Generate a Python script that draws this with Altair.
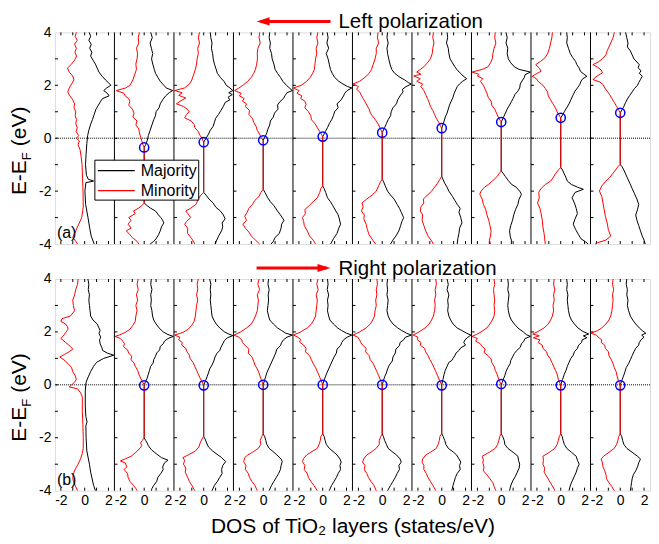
import altair as alt
import pandas as pd

# ---------------- data (E in eV, DOS in states/eV; majority +, minority -) ----------------
A1_MAJ = [(4.0,0.38),(3.85,0.5),(3.7,0.35),(3.55,0.55),(3.4,0.42),(3.25,0.6),(3.1,0.5),(2.95,0.7),(2.8,0.9),(2.65,1.05),(2.5,1.2),(2.35,1.45),(2.2,1.75),(2.1,2.0),(2.0,2.2),(1.9,1.85),(1.8,1.6),(1.7,1.9),(1.6,2.05),(1.5,1.5),(1.4,1.35),(1.25,1.15),(1.1,0.95),(0.9,0.8),(0.7,0.65),(0.5,0.48),(0.3,0.35),(0.1,0.25),(-0.2,0.18),(-0.6,0.12),(-1.0,0.07),(-1.4,0.15),(-1.55,0.3),(-1.62,0.75),(-1.68,0.1),(-2.0,0.02),(-2.5,0.08),(-3.0,0.28),(-3.4,0.42),(-3.7,0.55),(-4.0,0.8)]
A1_MIN = [(4.0,-0.7),(3.85,-0.8),(3.7,-0.62),(3.55,-0.85),(3.4,-0.7),(3.25,-0.82),(3.1,-0.68),(2.95,-0.85),(2.8,-1.1),(2.65,-1.45),(2.5,-1.3),(2.35,-1.0),(2.2,-0.9),(2.05,-1.1),(1.9,-1.3),(1.75,-1.42),(1.6,-1.25),(1.45,-1.0),(1.3,-0.85),(1.15,-0.9),(1.0,-0.75),(0.85,-0.8),(0.7,-0.68),(0.55,-0.75),(0.4,-0.62),(0.25,-0.72),(0.1,-0.5),(0.0,-0.7),(-0.1,-0.45),(-0.25,-0.55),(-0.45,-0.38),(-0.7,-0.3),(-1.0,-0.22),(-1.5,-0.18),(-2.0,-0.14),(-2.6,-0.12),(-3.0,-0.25),(-3.25,-0.5),(-3.5,-0.75),(-3.75,-1.0),(-3.9,-0.75),(-4.0,-0.6)]
A2_MAJ = [(4.0,0.55),(3.8,0.68),(3.6,0.5),(3.4,0.6),(3.2,0.72),(3.0,0.62),(2.8,0.72),(2.6,0.85),(2.45,0.95),(2.3,1.15),(2.15,1.35),(2.0,1.65),(1.9,1.85),(1.8,2.4),(1.72,2.1),(1.6,1.8),(1.45,1.55),(1.3,1.35),(1.15,1.25),(1.0,1.0),(0.85,0.95),(0.7,0.8),(0.5,0.65),(0.3,0.5),(0.1,0.35),(-0.1,0.25),(-0.25,0.12),(-0.35,0.0),(-2.45,0.0),(-2.55,0.25),(-2.65,0.55),(-2.75,0.95),(-2.9,1.2),(-3.0,1.4),(-3.1,1.55),(-3.2,1.65),(-3.35,1.45),(-3.5,1.35),(-3.65,1.2),(-3.8,1.0),(-3.9,0.8),(-4.0,0.5)]
A2_MIN = [(4.0,-0.4),(3.8,-0.5),(3.6,-0.45),(3.4,-0.65),(3.2,-0.55),(3.0,-0.6),(2.8,-0.7),(2.6,-0.65),(2.4,-0.8),(2.2,-0.95),(2.0,-1.2),(1.9,-1.55),(1.8,-2.35),(1.7,-1.7),(1.6,-1.6),(1.5,-1.3),(1.4,-1.2),(1.25,-1.3),(1.1,-1.0),(0.95,-0.85),(0.8,-0.95),(0.65,-0.6),(0.5,-0.7),(0.35,-0.45),(0.2,-0.4),(0.05,-0.3),(-0.1,-0.2),(-0.25,-0.1),(-0.35,0.0),(-2.45,0.0),(-2.55,-0.2),(-2.65,-0.5),(-2.75,-0.9),(-2.85,-0.75),(-3.0,-1.3),(-3.1,-1.1),(-3.25,-1.35),(-3.4,-1.1),(-3.5,-1.5),(-3.65,-1.2),(-3.75,-1.0),(-3.9,-0.6),(-4.0,-0.45)]
A3_MAJ = [(4.0,0.55),(3.8,0.6),(3.6,0.7),(3.4,0.65),(3.2,0.75),(3.0,0.8),(2.8,0.9),(2.6,1.05),(2.45,1.15),(2.3,1.4),(2.15,1.7),(2.0,1.9),(1.9,2.2),(1.8,2.45),(1.72,2.1),(1.65,2.4),(1.55,2.05),(1.45,2.2),(1.35,1.8),(1.2,1.65),(1.05,1.45),(0.9,1.25),(0.75,1.0),(0.6,0.9),(0.45,0.8),(0.3,0.55),(0.15,0.4),(0.0,0.2),(-0.15,0.0),(-2.05,0.0),(-2.15,0.2),(-2.3,0.45),(-2.45,0.8),(-2.6,1.0),(-2.75,1.4),(-2.9,1.65),(-3.05,1.8),(-3.2,1.55),(-3.35,1.6),(-3.5,1.5),(-3.7,1.25),(-3.85,1.1),(-4.0,0.95)]
A3_MIN = [(4.0,-0.35),(3.8,-0.45),(3.6,-0.35),(3.4,-0.5),(3.2,-0.45),(3.0,-0.55),(2.8,-0.6),(2.6,-0.7),(2.4,-0.85),(2.2,-1.0),(2.05,-1.2),(1.9,-1.6),(1.8,-2.45),(1.72,-1.8),(1.62,-2.1),(1.52,-1.5),(1.42,-1.9),(1.3,-2.3),(1.2,-1.7),(1.1,-1.4),(1.0,-1.2),(0.9,-1.45),(0.77,-1.6),(0.65,-1.05),(0.52,-0.8),(0.4,-0.75),(0.25,-0.45),(0.1,-0.3),(0.0,-0.15),(-0.15,0.0),(-2.05,0.0),(-2.15,-0.25),(-2.3,-0.45),(-2.5,-0.65),(-2.65,-1.1),(-2.75,-1.5),(-2.9,-1.25),(-3.0,-1.1),(-3.15,-1.45),(-3.25,-1.6),(-3.4,-1.35),(-3.6,-1.35),(-3.8,-1.0),(-3.95,-0.8),(-4.0,-0.75)]
A4_MAJ = [(4.0,0.55),(3.8,0.5),(3.6,0.6),(3.4,0.55),(3.2,0.7),(3.0,0.75),(2.8,0.9),(2.6,1.0),(2.45,1.2),(2.3,1.45),(2.15,1.65),(2.0,1.95),(1.9,2.2),(1.8,2.45),(1.72,2.0),(1.62,1.85),(1.5,1.7),(1.38,1.4),(1.25,1.2),(1.1,1.25),(0.95,0.95),(0.8,0.85),(0.65,0.6),(0.5,0.55),(0.35,0.4),(0.2,0.3),(0.05,0.15),(-0.08,0.0),(-1.93,0.0),(-2.05,0.15),(-2.25,0.38),(-2.4,0.6),(-2.55,0.9),(-2.75,1.2),(-2.9,1.45),(-3.1,1.75),(-3.25,1.55),(-3.4,1.5),(-3.6,1.35),(-3.75,1.0),(-3.9,0.85),(-4.0,0.66)]
A4_MIN = [(4.0,-0.3),(3.8,-0.35),(3.6,-0.25),(3.4,-0.45),(3.2,-0.5),(3.0,-0.48),(2.8,-0.55),(2.6,-0.65),(2.45,-0.8),(2.3,-1.0),(2.15,-1.3),(2.0,-1.7),(1.88,-2.1),(1.8,-2.4),(1.7,-1.85),(1.6,-2.0),(1.5,-1.6),(1.4,-1.75),(1.3,-1.4),(1.2,-1.5),(1.05,-1.15),(0.9,-1.2),(0.75,-0.9),(0.6,-0.8),(0.45,-0.6),(0.3,-0.5),(0.15,-0.3),(0.0,-0.15),(-0.08,0.0),(-1.93,0.0),(-2.05,-0.2),(-2.2,-0.35),(-2.35,-0.7),(-2.5,-0.9),(-2.65,-1.2),(-2.8,-1.35),(-2.95,-1.55),(-3.1,-1.4),(-3.25,-1.7),(-3.4,-1.5),(-3.55,-1.2),(-3.7,-1.0),(-3.85,-0.65),(-4.0,-0.3)]
A5_MAJ = [(4.0,0.38),(3.8,0.45),(3.6,0.35),(3.4,0.5),(3.2,0.3),(3.0,0.45),(2.8,0.55),(2.6,0.65),(2.45,0.8),(2.3,1.0),(2.15,1.35),(2.05,1.7),(1.95,2.1),(1.9,2.45),(1.8,2.05),(1.7,1.85),(1.6,1.75),(1.45,1.55),(1.3,1.2),(1.15,1.3),(1.0,1.0),(0.85,0.9),(0.7,0.75),(0.55,0.55),(0.4,0.4),(0.25,0.22),(0.06,0.0),(-1.8,0.0),(-1.9,0.12),(-2.05,0.25),(-2.25,0.4),(-2.4,0.65),(-2.55,0.85),(-2.75,1.1),(-2.9,1.3),(-3.05,1.4),(-3.25,1.5),(-3.4,1.35),(-3.6,1.2),(-3.8,0.9),(-4.0,0.66)]
A5_MIN = [(4.0,-0.4),(3.8,-0.5),(3.6,-0.4),(3.4,-0.55),(3.2,-0.5),(3.0,-0.6),(2.8,-0.65),(2.6,-0.7),(2.45,-0.85),(2.3,-1.05),(2.15,-1.35),(2.0,-1.8),(1.9,-2.45),(1.8,-2.0),(1.7,-2.15),(1.6,-1.75),(1.5,-1.85),(1.4,-1.5),(1.28,-1.4),(1.15,-1.5),(1.0,-1.2),(0.85,-1.0),(0.7,-0.95),(0.55,-0.65),(0.4,-0.45),(0.25,-0.25),(0.15,-0.12),(0.06,0.0),(-1.8,0.0),(-1.9,-0.15),(-2.05,-0.25),(-2.25,-0.45),(-2.4,-0.8),(-2.55,-1.15),(-2.7,-1.5),(-2.85,-1.45),(-3.0,-1.7),(-3.15,-1.6),(-3.3,-1.55),(-3.5,-1.3),(-3.7,-1.1),(-3.85,-0.8),(-4.0,-0.6)]
A6_MAJ = [(4.0,0.45),(3.8,0.4),(3.6,0.5),(3.4,0.4),(3.2,0.45),(3.0,0.55),(2.8,0.65),(2.6,0.8),(2.45,1.05),(2.3,1.5),(2.2,1.9),(2.1,2.2),(2.05,2.45),(1.95,2.0),(1.85,1.7),(1.75,1.75),(1.6,1.5),(1.45,1.3),(1.3,1.2),(1.15,0.9),(1.0,0.75),(0.85,0.7),(0.7,0.5),(0.55,0.35),(0.4,0.2),(0.21,0.0),(-1.55,0.0),(-1.65,0.12),(-1.8,0.25),(-2.0,0.45),(-2.15,0.7),(-2.3,1.0),(-2.5,1.25),(-2.65,1.45),(-2.8,1.6),(-3.0,1.8),(-3.15,1.65),(-3.3,1.55),(-3.5,1.4),(-3.7,1.15),(-3.85,0.9),(-4.0,0.7)]
A6_MIN = [(4.0,-0.35),(3.8,-0.4),(3.6,-0.3),(3.4,-0.5),(3.2,-0.5),(3.0,-0.6),(2.8,-0.75),(2.6,-0.9),(2.45,-1.1),(2.3,-1.45),(2.15,-1.9),(2.05,-2.45),(1.95,-2.0),(1.85,-2.15),(1.75,-1.9),(1.62,-1.75),(1.5,-1.6),(1.38,-1.45),(1.25,-1.3),(1.1,-1.1),(0.95,-1.0),(0.8,-0.75),(0.65,-0.5),(0.5,-0.3),(0.35,-0.15),(0.21,0.0),(-1.55,0.0),(-1.65,-0.15),(-1.8,-0.3),(-2.0,-0.5),(-2.15,-0.85),(-2.3,-1.3),(-2.45,-1.7),(-2.6,-1.6),(-2.75,-1.75),(-2.9,-1.5),(-3.05,-1.55),(-3.25,-1.35),(-3.45,-1.25),(-3.65,-1.1),(-3.85,-0.8),(-4.0,-0.55)]
A7_MAJ = [(4.0,0.45),(3.8,0.5),(3.6,0.4),(3.4,0.55),(3.2,0.6),(3.0,0.7),(2.85,0.9),(2.7,1.1),(2.55,1.35),(2.45,1.6),(2.35,1.8),(2.25,2.1),(2.15,1.75),(2.05,1.5),(1.95,1.3),(1.85,1.2),(1.7,1.05),(1.55,0.95),(1.4,0.8),(1.25,0.65),(1.1,0.55),(0.95,0.45),(0.8,0.3),(0.65,0.2),(0.5,0.1),(0.38,0.0),(-1.43,0.0),(-1.55,0.1),(-1.7,0.25),(-1.85,0.45),(-2.0,0.6),(-2.2,0.9),(-2.35,1.1),(-2.5,1.3),(-2.65,1.55),(-2.8,1.45),(-3.0,1.6),(-3.2,1.7),(-3.4,1.5),(-3.6,1.45),(-3.8,1.35),(-4.0,1.3)]
A7_MIN = [(4.0,-0.7),(3.8,-0.75),(3.6,-0.65),(3.4,-0.75),(3.2,-0.8),(3.0,-0.95),(2.85,-1.2),(2.7,-1.5),(2.6,-1.8),(2.5,-2.1),(2.42,-1.75),(2.35,-2.35),(2.25,-1.8),(2.15,-2.1),(2.05,-1.6),(1.95,-1.75),(1.8,-1.5),(1.65,-1.35),(1.5,-1.2),(1.35,-1.05),(1.2,-0.95),(1.05,-0.75),(0.9,-0.6),(0.75,-0.45),(0.6,-0.25),(0.45,-0.1),(0.38,0.0),(-1.43,0.0),(-1.55,-0.15),(-1.7,-0.35),(-1.85,-0.6),(-2.0,-0.85),(-2.15,-1.2),(-2.3,-1.55),(-2.45,-1.5),(-2.6,-1.75),(-2.75,-1.8),(-2.9,-1.6),(-3.1,-1.65),(-3.3,-1.5),(-3.5,-1.35),(-3.7,-1.15),(-3.85,-0.9),(-4.0,-0.7)]
A8_MAJ = [(4.0,0.4),(3.8,0.5),(3.6,0.4),(3.4,0.55),(3.2,0.5),(3.0,0.6),(2.85,0.8),(2.7,1.1),(2.6,1.5),(2.5,2.45),(2.4,2.0),(2.3,1.95),(2.2,1.8),(2.05,1.6),(1.9,1.55),(1.78,1.4),(1.65,1.15),(1.5,1.0),(1.38,0.85),(1.25,0.7),(1.1,0.5),(0.95,0.35),(0.8,0.2),(0.61,0.0),(-1.24,0.0),(-1.32,0.15),(-1.45,0.35),(-1.6,0.6),(-1.74,0.85),(-1.85,1.25),(-2.0,1.55),(-2.12,1.7),(-2.3,1.5),(-2.5,1.4),(-2.7,1.2),(-2.9,1.05),(-3.1,0.95),(-3.3,0.8),(-3.5,0.7),(-3.7,0.75),(-3.85,0.85),(-4.0,0.85)]
A8_MIN = [(4.0,-0.5),(3.8,-0.55),(3.6,-0.45),(3.4,-0.6),(3.2,-0.7),(3.0,-0.75),(2.85,-0.9),(2.7,-1.1),(2.6,-1.6),(2.5,-2.45),(2.42,-1.9),(2.35,-2.0),(2.25,-1.55),(2.15,-1.75),(2.0,-1.5),(1.85,-1.35),(1.7,-1.2),(1.55,-1.1),(1.4,-0.85),(1.25,-0.8),(1.1,-0.55),(0.95,-0.4),(0.8,-0.25),(0.68,-0.1),(0.61,0.0),(-1.24,0.0),(-1.32,-0.15),(-1.45,-0.35),(-1.6,-0.7),(-1.74,-1.05),(-1.85,-1.4),(-2.0,-1.7),(-2.12,-1.8),(-2.3,-1.6),(-2.5,-1.5),(-2.7,-1.3),(-2.9,-1.2),(-3.1,-1.05),(-3.3,-0.95),(-3.5,-0.85),(-3.7,-0.9),(-3.85,-1.0),(-4.0,-0.9)]
A9_MAJ = [(4.0,0.5),(3.8,0.55),(3.6,0.5),(3.4,0.65),(3.2,0.8),(3.05,1.0),(2.9,1.25),(2.78,1.35),(2.65,1.55),(2.53,1.65),(2.42,1.95),(2.34,2.2),(2.25,1.85),(2.15,1.7),(2.03,1.6),(1.9,1.4),(1.78,1.2),(1.6,1.0),(1.45,0.85),(1.3,0.7),(1.15,0.5),(1.0,0.3),(0.88,0.15),(0.77,0.0),(-1.11,0.0),(-1.2,0.15),(-1.35,0.3),(-1.5,0.45),(-1.62,0.55),(-1.75,0.9),(-1.85,1.4),(-1.93,1.9),(-2.05,1.2),(-2.25,0.95),(-2.45,1.15),(-2.65,1.3),(-2.85,1.4),(-3.05,1.2),(-3.25,1.05),(-3.45,1.25),(-3.65,1.5),(-3.8,1.7),(-3.92,2.1),(-4.0,2.3)]
A9_MIN = [(4.0,-0.7),(3.8,-0.75),(3.6,-0.85),(3.4,-0.95),(3.2,-1.1),(3.05,-1.3),(2.9,-1.7),(2.78,-2.1),(2.65,-1.8),(2.53,-1.65),(2.42,-2.1),(2.34,-2.4),(2.25,-2.05),(2.15,-1.9),(2.0,-1.5),(1.88,-1.3),(1.75,-1.1),(1.6,-1.05),(1.45,-0.85),(1.3,-0.65),(1.15,-0.45),(1.0,-0.3),(0.88,-0.15),(0.77,0.0),(-1.11,0.0),(-1.2,-0.2),(-1.35,-0.45),(-1.5,-0.65),(-1.62,-0.85),(-1.75,-1.3),(-1.9,-1.65),(-2.05,-1.85),(-2.25,-1.8),(-2.45,-1.95),(-2.65,-1.75),(-2.85,-1.65),(-3.1,-1.55),(-3.35,-1.5),(-3.6,-1.4),(-3.8,-1.35),(-4.0,-1.3)]
A10_MAJ = [(4.0,0.45),(3.8,0.55),(3.6,0.65),(3.45,0.6),(3.3,0.85),(3.15,1.0),(3.0,1.15),(2.88,1.4),(2.78,1.6),(2.66,1.5),(2.55,1.75),(2.45,1.6),(2.34,1.85),(2.22,1.7),(2.1,1.55),(2.0,1.45),(1.88,1.2),(1.75,1.0),(1.62,0.8),(1.48,0.6),(1.35,0.45),(1.2,0.3),(1.08,0.15),(0.96,0.0),(-0.99,0.0),(-1.08,0.15),(-1.2,0.3),(-1.35,0.45),(-1.5,0.6),(-1.7,0.8),(-1.9,1.0),(-2.1,1.2),(-2.3,1.4),(-2.5,1.55),(-2.7,1.45),(-2.9,1.3),(-3.1,1.4),(-3.3,1.55),(-3.5,1.7),(-3.7,1.85),(-3.85,2.0),(-4.0,2.1)]
A10_MIN = [(4.0,-0.5),(3.8,-0.6),(3.6,-0.8),(3.45,-0.95),(3.3,-1.1),(3.15,-1.2),(3.0,-1.5),(2.88,-1.85),(2.78,-2.3),(2.68,-1.9),(2.58,-1.6),(2.47,-1.5),(2.35,-1.95),(2.22,-2.3),(2.12,-1.7),(2.03,-1.45),(1.9,-1.3),(1.78,-1.1),(1.65,-0.9),(1.5,-0.7),(1.35,-0.5),(1.2,-0.3),(1.05,-0.12),(0.96,0.0),(-0.99,0.0),(-1.08,-0.2),(-1.2,-0.4),(-1.35,-0.65),(-1.49,-0.9),(-1.62,-1.2),(-1.8,-1.55),(-2.0,-1.75),(-2.2,-1.55),(-2.45,-1.45),(-2.7,-1.35),(-2.95,-1.25),(-3.2,-1.1),(-3.45,-1.0),(-3.7,-0.8),(-3.85,-1.2),(-3.95,-1.9),(-4.0,-2.1)]

B1_MAJ = [(4.0,0.27),(3.8,0.35),(3.6,0.3),(3.4,0.4),(3.2,0.35),(3.0,0.4),(2.8,0.45),(2.6,0.5),(2.45,0.7),(2.3,1.05),(2.15,1.2),(2.05,1.3),(1.95,1.2),(1.8,1.35),(1.7,1.25),(1.55,1.3),(1.4,1.45),(1.3,1.5),(1.2,1.9),(1.12,2.45),(1.0,1.6),(0.85,1.0),(0.7,0.75),(0.5,0.5),(0.3,0.3),(0.1,0.12),(-0.2,0.05),(-0.8,0.05),(-1.2,0.1),(-1.4,0.2),(-1.55,0.1),(-2.0,0.12),(-2.5,0.18),(-3.0,0.4),(-3.3,0.5),(-3.6,0.65),(-3.8,0.75),(-4.0,0.9)]
B1_MIN = [(4.0,-0.55),(3.8,-0.6),(3.6,-0.75),(3.4,-0.85),(3.2,-1.0),(3.0,-0.95),(2.8,-0.85),(2.6,-1.2),(2.5,-1.9),(2.4,-2.0),(2.3,-1.6),(2.2,-1.45),(2.1,-1.4),(2.0,-1.55),(1.85,-1.8),(1.75,-2.0),(1.6,-1.6),(1.45,-1.2),(1.35,-1.0),(1.25,-1.3),(1.15,-1.7),(1.05,-2.1),(0.95,-1.75),(0.8,-1.4),(0.65,-1.1),(0.5,-1.0),(0.35,-0.8),(0.2,-0.7),(0.1,-0.85),(0.0,-1.1),(-0.08,-1.3),(-0.15,-0.6),(-0.3,-0.35),(-0.45,-0.2),(-1.0,-0.2),(-1.5,-0.15),(-2.0,-0.12),(-2.4,-0.12),(-2.6,-0.2),(-2.8,-0.35),(-3.0,-0.55),(-3.15,-0.75),(-3.3,-0.9),(-3.5,-1.0),(-3.65,-0.95),(-3.8,-0.8),(-4.0,-0.6)]
B2_MAJ = [(4.0,0.6),(3.8,0.55),(3.6,0.65),(3.4,0.55),(3.2,0.6),(3.0,0.55),(2.8,0.65),(2.6,0.7),(2.45,0.8),(2.3,1.0),(2.15,1.25),(2.0,1.6),(1.9,2.0),(1.83,2.45),(1.75,2.0),(1.65,1.7),(1.55,1.6),(1.45,1.35),(1.32,1.3),(1.2,1.05),(1.08,0.95),(0.95,0.8),(0.82,0.75),(0.7,0.55),(0.55,0.45),(0.4,0.35),(0.25,0.25),(0.12,0.12),(0.0,0.0),(-2.0,0.0),(-2.1,0.12),(-2.2,0.25),(-2.3,0.35),(-2.45,0.6),(-2.6,1.0),(-2.75,1.45),(-2.85,2.0),(-2.95,1.7),(-3.1,1.55),(-3.2,1.6),(-3.35,1.4),(-3.5,1.15),(-3.65,1.05),(-3.8,0.8),(-3.92,0.65),(-4.0,0.6)]
B2_MIN = [(4.0,-0.5),(3.8,-0.6),(3.6,-0.5),(3.4,-0.65),(3.2,-0.55),(3.0,-0.7),(2.8,-0.6),(2.6,-0.7),(2.4,-0.75),(2.25,-0.95),(2.1,-1.2),(1.98,-1.6),(1.88,-2.1),(1.83,-2.45),(1.75,-2.0),(1.65,-1.8),(1.55,-1.65),(1.45,-1.75),(1.32,-1.4),(1.2,-1.3),(1.08,-1.05),(0.95,-1.1),(0.82,-0.85),(0.7,-0.75),(0.55,-0.55),(0.4,-0.45),(0.25,-0.3),(0.12,-0.15),(0.0,0.0),(-2.0,0.0),(-2.1,-0.15),(-2.2,-0.3),(-2.3,-0.2),(-2.4,-0.35),(-2.55,-0.7),(-2.7,-1.1),(-2.8,-1.6),(-2.88,-2.0),(-2.95,-1.6),(-3.1,-1.45),(-3.2,-1.7),(-3.35,-1.4),(-3.5,-1.35),(-3.65,-1.2),(-3.8,-0.9),(-3.92,-0.7),(-4.0,-0.6)]
B3_MAJ = [(4.0,0.5),(3.8,0.6),(3.6,0.55),(3.4,0.6),(3.2,0.55),(3.0,0.6),(2.8,0.65),(2.6,0.7),(2.45,0.85),(2.3,1.05),(2.15,1.35),(2.0,1.75),(1.92,2.1),(1.86,2.45),(1.78,2.0),(1.68,1.75),(1.55,1.6),(1.42,1.45),(1.3,1.35),(1.18,1.1),(1.05,0.95),(0.9,0.85),(0.75,0.7),(0.6,0.5),(0.45,0.4),(0.3,0.28),(0.15,0.15),(0.0,0.0),(-1.95,0.0),(-2.05,0.12),(-2.2,0.25),(-2.35,0.4),(-2.5,0.75),(-2.65,1.2),(-2.75,1.5),(-2.9,1.85),(-3.05,1.6),(-3.2,1.5),(-3.35,1.55),(-3.5,1.35),(-3.65,1.15),(-3.8,0.9),(-4.0,0.7)]
B3_MIN = [(4.0,-0.45),(3.8,-0.55),(3.6,-0.5),(3.4,-0.6),(3.2,-0.5),(3.0,-0.6),(2.8,-0.65),(2.6,-0.7),(2.4,-0.8),(2.25,-1.0),(2.1,-1.3),(1.98,-1.75),(1.88,-2.45),(1.8,-2.0),(1.7,-2.1),(1.6,-1.8),(1.5,-1.85),(1.38,-1.5),(1.25,-1.4),(1.12,-1.2),(1.0,-1.15),(0.85,-0.9),(0.7,-0.75),(0.55,-0.6),(0.4,-0.45),(0.25,-0.3),(0.12,-0.15),(0.0,0.0),(-1.95,0.0),(-2.05,-0.15),(-2.2,-0.3),(-2.35,-0.4),(-2.5,-0.7),(-2.65,-1.3),(-2.75,-1.75),(-2.85,-1.6),(-3.0,-1.7),(-3.15,-1.5),(-3.3,-1.55),(-3.5,-1.35),(-3.65,-1.2),(-3.8,-1.0),(-4.0,-0.75)]
B4_MAJ = [(4.0,0.45),(3.8,0.4),(3.6,0.5),(3.4,0.42),(3.2,0.45),(3.0,0.4),(2.8,0.35),(2.6,0.45),(2.45,0.55),(2.3,0.85),(2.15,1.2),(2.05,1.55),(1.95,1.9),(1.88,2.45),(1.8,2.0),(1.7,1.7),(1.6,1.55),(1.48,1.45),(1.35,1.15),(1.2,1.05),(1.05,0.9),(0.9,0.75),(0.75,0.6),(0.6,0.45),(0.45,0.3),(0.3,0.2),(0.15,0.1),(0.0,0.0),(-1.85,0.0),(-1.95,0.12),(-2.1,0.22),(-2.25,0.3),(-2.4,0.5),(-2.55,0.9),(-2.65,1.15),(-2.8,1.5),(-2.9,1.6),(-3.05,1.5),(-3.2,1.45),(-3.35,1.3),(-3.5,1.1),(-3.65,0.9),(-3.8,0.7),(-4.0,0.5)]
B4_MIN = [(4.0,-0.35),(3.8,-0.45),(3.6,-0.3),(3.4,-0.5),(3.2,-0.4),(3.0,-0.45),(2.8,-0.5),(2.6,-0.65),(2.45,-0.8),(2.3,-1.0),(2.15,-1.4),(2.0,-1.9),(1.88,-2.45),(1.8,-2.05),(1.7,-1.8),(1.6,-1.75),(1.48,-1.5),(1.35,-1.2),(1.2,-1.25),(1.05,-0.95),(0.9,-0.8),(0.75,-0.7),(0.6,-0.5),(0.45,-0.35),(0.3,-0.25),(0.15,-0.12),(0.0,0.0),(-1.85,0.0),(-1.95,-0.12),(-2.1,-0.25),(-2.25,-0.2),(-2.4,-0.4),(-2.55,-0.9),(-2.65,-1.3),(-2.75,-1.55),(-2.9,-1.65),(-3.05,-1.45),(-3.2,-1.5),(-3.35,-1.25),(-3.5,-1.15),(-3.65,-0.95),(-3.8,-0.7),(-4.0,-0.5)]
B5_MAJ = [(4.0,0.4),(3.8,0.45),(3.6,0.38),(3.4,0.5),(3.2,0.4),(3.0,0.45),(2.8,0.4),(2.6,0.5),(2.45,0.6),(2.3,0.9),(2.15,1.25),(2.05,1.6),(1.95,2.0),(1.88,2.45),(1.8,2.05),(1.7,1.75),(1.6,1.6),(1.48,1.5),(1.35,1.2),(1.2,1.15),(1.05,0.95),(0.9,0.8),(0.75,0.65),(0.6,0.5),(0.45,0.35),(0.3,0.22),(0.15,0.1),(0.0,0.0),(-1.85,0.0),(-1.95,0.12),(-2.1,0.2),(-2.25,0.3),(-2.4,0.55),(-2.55,0.95),(-2.65,1.2),(-2.8,1.45),(-2.92,1.55),(-3.05,1.45),(-3.2,1.5),(-3.35,1.3),(-3.5,1.15),(-3.65,0.95),(-3.8,0.75),(-4.0,0.55)]
B5_MIN = [(4.0,-0.4),(3.8,-0.5),(3.6,-0.38),(3.4,-0.55),(3.2,-0.45),(3.0,-0.5),(2.8,-0.55),(2.6,-0.6),(2.45,-0.75),(2.3,-0.95),(2.15,-1.3),(2.0,-1.85),(1.88,-2.45),(1.8,-2.1),(1.72,-1.85),(1.62,-1.95),(1.5,-1.6),(1.38,-1.4),(1.25,-1.45),(1.1,-1.1),(0.95,-0.95),(0.8,-0.8),(0.65,-0.6),(0.5,-0.45),(0.35,-0.3),(0.18,-0.15),(0.0,0.0),(-1.85,0.0),(-1.95,-0.15),(-2.1,-0.2),(-2.25,-0.3),(-2.4,-0.45),(-2.55,-1.0),(-2.65,-1.35),(-2.78,-1.6),(-2.9,-1.7),(-3.05,-1.5),(-3.2,-1.55),(-3.35,-1.3),(-3.5,-1.2),(-3.65,-1.0),(-3.8,-0.75),(-4.0,-0.45)]
B6_MAJ = [(4.0,0.45),(3.8,0.4),(3.6,0.45),(3.4,0.4),(3.2,0.5),(3.0,0.45),(2.8,0.4),(2.6,0.5),(2.45,0.65),(2.3,0.9),(2.15,1.3),(2.05,1.65),(1.95,2.05),(1.88,2.45),(1.8,1.95),(1.7,1.8),(1.6,1.5),(1.48,1.45),(1.35,1.15),(1.2,1.1),(1.05,0.9),(0.9,0.85),(0.75,0.6),(0.6,0.45),(0.45,0.35),(0.3,0.2),(0.15,0.1),(0.0,0.0),(-1.85,0.0),(-1.95,0.1),(-2.1,0.2),(-2.25,0.35),(-2.4,0.5),(-2.55,0.9),(-2.65,1.2),(-2.8,1.5),(-2.92,1.6),(-3.05,1.4),(-3.2,1.45),(-3.35,1.25),(-3.5,1.1),(-3.65,0.9),(-3.8,0.7),(-4.0,0.45)]
B6_MIN = [(4.0,-0.45),(3.8,-0.4),(3.6,-0.5),(3.4,-0.45),(3.2,-0.55),(3.0,-0.5),(2.8,-0.6),(2.6,-0.65),(2.45,-0.8),(2.3,-1.0),(2.15,-1.35),(2.0,-1.9),(1.88,-2.45),(1.8,-2.05),(1.7,-1.9),(1.6,-1.8),(1.5,-1.65),(1.38,-1.35),(1.25,-1.4),(1.1,-1.1),(0.95,-1.0),(0.8,-0.75),(0.65,-0.6),(0.5,-0.45),(0.35,-0.3),(0.18,-0.15),(0.0,0.0),(-1.85,0.0),(-1.95,-0.12),(-2.1,-0.25),(-2.25,-0.25),(-2.4,-0.5),(-2.55,-0.95),(-2.65,-1.3),(-2.8,-1.55),(-2.92,-1.65),(-3.05,-1.45),(-3.2,-1.5),(-3.35,-1.3),(-3.5,-1.15),(-3.65,-0.95),(-3.8,-0.7),(-4.0,-0.5)]
B7_MAJ = [(4.0,0.45),(3.8,0.55),(3.6,0.45),(3.4,0.6),(3.2,0.5),(3.0,0.55),(2.8,0.5),(2.6,0.6),(2.45,0.75),(2.3,0.95),(2.15,1.3),(2.05,1.7),(1.95,2.1),(1.88,2.45),(1.8,2.2),(1.7,1.95),(1.6,1.85),(1.5,2.0),(1.4,1.6),(1.3,1.45),(1.2,1.2),(1.1,1.1),(1.0,0.95),(0.92,0.85),(0.85,0.6),(0.7,0.45),(0.55,0.3),(0.4,0.2),(0.2,0.1),(0.0,0.0),(-1.85,0.0),(-1.95,0.12),(-2.1,0.25),(-2.25,0.35),(-2.4,0.55),(-2.55,1.0),(-2.65,1.25),(-2.8,1.45),(-2.92,1.6),(-3.05,1.5),(-3.2,1.55),(-3.35,1.3),(-3.5,1.15),(-3.65,1.05),(-3.8,0.95),(-4.0,0.85)]
B7_MIN = [(4.0,-0.5),(3.8,-0.45),(3.6,-0.55),(3.4,-0.5),(3.2,-0.6),(3.0,-0.55),(2.8,-0.6),(2.6,-0.7),(2.45,-0.85),(2.3,-1.05),(2.15,-1.4),(2.0,-1.9),(1.88,-2.4),(1.8,-2.0),(1.7,-2.05),(1.6,-1.75),(1.5,-1.8),(1.38,-1.45),(1.25,-1.35),(1.1,-1.15),(0.95,-1.0),(0.8,-0.8),(0.65,-0.65),(0.5,-0.5),(0.35,-0.35),(0.18,-0.2),(0.0,0.0),(-1.85,0.0),(-1.95,-0.15),(-2.1,-0.2),(-2.25,-0.3),(-2.4,-0.45),(-2.55,-0.95),(-2.65,-1.35),(-2.8,-1.6),(-2.92,-1.65),(-3.05,-1.5),(-3.2,-1.5),(-3.35,-1.3),(-3.5,-1.15),(-3.65,-0.95),(-3.8,-0.75),(-4.0,-0.5)]
B8_MAJ = [(4.0,0.55),(3.8,0.6),(3.6,0.55),(3.4,0.65),(3.2,0.6),(3.0,0.55),(2.8,0.6),(2.6,0.7),(2.45,0.85),(2.3,1.1),(2.15,1.4),(2.0,1.85),(1.9,2.1),(1.83,2.45),(1.75,2.0),(1.65,1.9),(1.55,1.7),(1.42,1.6),(1.3,1.3),(1.18,1.1),(1.05,0.95),(0.92,0.8),(0.8,0.75),(0.65,0.55),(0.5,0.4),(0.35,0.3),(0.18,0.15),(0.0,0.0),(-1.85,0.0),(-1.95,0.12),(-2.1,0.25),(-2.25,0.3),(-2.4,0.55),(-2.55,1.0),(-2.7,1.4),(-2.85,1.45),(-3.0,1.55),(-3.15,1.5),(-3.3,1.35),(-3.45,1.2),(-3.6,1.0),(-3.75,0.85),(-3.9,0.75),(-4.0,0.7)]
B8_MIN = [(4.0,-0.6),(3.8,-0.55),(3.6,-0.65),(3.4,-0.6),(3.2,-0.55),(3.0,-0.6),(2.8,-0.55),(2.6,-0.6),(2.45,-0.75),(2.3,-0.95),(2.15,-1.2),(2.0,-1.7),(1.9,-2.1),(1.83,-2.45),(1.75,-2.0),(1.65,-2.15),(1.55,-1.75),(1.45,-1.6),(1.35,-1.35),(1.22,-1.45),(1.1,-1.1),(0.98,-0.85),(0.85,-0.8),(0.7,-0.6),(0.55,-0.5),(0.4,-0.35),(0.2,-0.2),(0.0,0.0),(-1.85,0.0),(-1.95,-0.12),(-2.1,-0.2),(-2.25,-0.3),(-2.4,-0.5),(-2.55,-1.0),(-2.7,-1.6),(-2.82,-1.5),(-2.95,-1.55),(-3.1,-1.45),(-3.25,-1.5),(-3.4,-1.2),(-3.55,-0.95),(-3.7,-0.7),(-3.85,-0.6),(-4.0,-0.45)]
B9_MAJ = [(4.0,0.5),(3.8,0.55),(3.6,0.5),(3.4,0.6),(3.2,0.55),(3.0,0.6),(2.8,0.65),(2.6,0.75),(2.45,0.9),(2.3,1.15),(2.15,1.45),(2.02,1.85),(1.92,2.35),(1.85,1.9),(1.78,2.2),(1.7,1.8),(1.6,1.75),(1.5,1.5),(1.38,1.4),(1.25,1.15),(1.12,1.05),(1.0,0.85),(0.85,0.7),(0.7,0.55),(0.55,0.45),(0.4,0.3),(0.2,0.15),(0.0,0.0),(-1.85,0.0),(-1.95,0.12),(-2.1,0.2),(-2.25,0.3),(-2.4,0.5),(-2.55,0.9),(-2.7,1.3),(-2.85,1.4),(-3.0,1.55),(-3.15,1.4),(-3.3,1.3),(-3.45,1.15),(-3.6,1.0),(-3.75,0.85),(-3.9,0.75),(-4.0,0.7)]
B9_MIN = [(4.0,-0.55),(3.8,-0.6),(3.6,-0.5),(3.4,-0.6),(3.2,-0.55),(3.0,-0.65),(2.8,-0.6),(2.6,-0.7),(2.45,-0.85),(2.3,-1.05),(2.15,-1.4),(2.02,-1.9),(1.92,-2.35),(1.85,-1.8),(1.78,-2.3),(1.7,-1.75),(1.6,-1.9),(1.5,-1.55),(1.38,-1.5),(1.25,-1.2),(1.12,-1.1),(1.0,-0.9),(0.85,-0.75),(0.7,-0.6),(0.55,-0.45),(0.4,-0.3),(0.2,-0.2),(0.0,0.0),(-1.85,0.0),(-1.95,-0.12),(-2.1,-0.2),(-2.25,-0.3),(-2.4,-0.5),(-2.55,-0.95),(-2.7,-1.5),(-2.85,-1.45),(-3.0,-1.5),(-3.15,-1.35),(-3.3,-1.4),(-3.45,-1.2),(-3.6,-1.0),(-3.75,-0.8),(-3.9,-0.6),(-4.0,-0.5)]
B10_MAJ = [(4.0,0.55),(3.8,0.5),(3.6,0.6),(3.4,0.55),(3.2,0.65),(3.0,0.6),(2.8,0.7),(2.6,0.85),(2.45,1.05),(2.3,1.3),(2.15,1.6),(2.05,1.85),(1.95,2.15),(1.88,1.8),(1.8,2.0),(1.7,1.75),(1.6,1.6),(1.5,1.55),(1.38,1.3),(1.25,1.15),(1.1,1.0),(0.95,0.85),(0.8,0.7),(0.65,0.5),(0.5,0.4),(0.3,0.25),(0.15,0.12),(0.0,0.0),(-1.85,0.0),(-1.95,0.12),(-2.1,0.2),(-2.25,0.3),(-2.4,0.55),(-2.55,1.0),(-2.7,1.45),(-2.8,1.7),(-2.95,1.55),(-3.1,1.45),(-3.25,1.3),(-3.4,1.1),(-3.55,1.0),(-3.7,0.95),(-3.85,0.9),(-4.0,0.85)]
B10_MIN = [(4.0,-0.6),(3.8,-0.65),(3.6,-0.55),(3.4,-0.65),(3.2,-0.6),(3.0,-0.65),(2.8,-0.7),(2.6,-0.8),(2.45,-0.95),(2.3,-1.2),(2.15,-1.55),(2.05,-1.9),(1.95,-2.45),(1.88,-2.0),(1.8,-1.85),(1.7,-1.55),(1.6,-1.6),(1.5,-1.3),(1.38,-1.25),(1.25,-1.0),(1.1,-0.95),(0.95,-0.75),(0.8,-0.6),(0.65,-0.5),(0.5,-0.35),(0.3,-0.25),(0.15,-0.15),(0.0,0.0),(-1.85,0.0),(-1.95,-0.12),(-2.1,-0.2),(-2.25,-0.3),(-2.4,-0.5),(-2.55,-0.95),(-2.7,-1.4),(-2.8,-1.6),(-2.95,-1.5),(-3.1,-1.45),(-3.25,-1.3),(-3.4,-1.2),(-3.55,-1.15),(-3.7,-0.95),(-3.85,-0.7),(-4.0,-0.5)]

A_CURVES = [(A1_MAJ, A1_MIN), (A2_MAJ, A2_MIN), (A3_MAJ, A3_MIN), (A4_MAJ, A4_MIN), (A5_MAJ, A5_MIN),
            (A6_MAJ, A6_MIN), (A7_MAJ, A7_MIN), (A8_MAJ, A8_MIN), (A9_MAJ, A9_MIN), (A10_MAJ, A10_MIN)]
B_CURVES = [(B1_MAJ, B1_MIN), (B2_MAJ, B2_MIN), (B3_MAJ, B3_MIN), (B4_MAJ, B4_MIN), (B5_MAJ, B5_MIN),
            (B6_MAJ, B6_MIN), (B7_MAJ, B7_MIN), (B8_MAJ, B8_MIN), (B9_MAJ, B9_MIN), (B10_MAJ, B10_MIN)]

# conduction-band minimum markers (panels 2..10)
CIRCLE_PANELS = [1, 2, 3, 4, 5, 6, 7, 8, 9]
A_CIRCLE_E = [-0.35, -0.15, -0.08, 0.06, 0.21, 0.38, 0.61, 0.77, 0.96]
B_CIRCLE_E = [-0.02, -0.02, 0.0, 0.0, 0.0, -0.02, 0.03, -0.02, -0.02]

LEGEND_LABELS = ["Majority", "Minority"]
LEGEND_COLORS = ["black", "red"]

N_PANELS = 10
PANEL_SPAN = 5.0          # each layer panel spans DOS -2.5 .. 2.5
LOCAL_TICKS = [-2, 0, 2]
MINOR_TICKS = [-2, -1, 0, 1, 2]
Y_TICKS = [-4, -2, 0, 2, 4]
Y_MINOR = [-3, -2, -1, 0, 1, 2, 3]

FONT = "Liberation Sans"
W, H = 596, 212

centers = [PANEL_SPAN * k for k in range(N_PANELS)]
borders = [c - PANEL_SPAN / 2 for c in centers]
separators = borders[1:]


def curves_df(curves, tag):
    rows = []
    for k, (maj, mnr) in enumerate(curves):
        for spin, pts in (("Majority", maj), ("Minority", mnr)):
            for i, (e, d) in enumerate(pts):
                d = max(-2.45, min(2.45, d))
                rows.append({"curve": f"{tag}{k}{spin}", "spin": spin, "idx": i,
                             "E": e, "x": centers[k] + d})
    return pd.DataFrame(rows)


def one(**kw):
    return alt.Chart(pd.DataFrame({k: [v] for k, v in kw.items()} if kw else {"a": [0]}))


def make_panel(curves, circle_e, tag, letter, title, arrow_left, legend, show_x):
    df = curves_df(curves, tag)
    if show_x:
        xaxis = alt.Axis(values=[c + t for c in centers for t in LOCAL_TICKS],
                         labelExpr="'' + (datum.value - 5*round(datum.value/5))",
                         labelFontSize=14, labelFont=FONT, labelColor="black",
                         labelPadding=3, labelOverlap=False, labelFlush=False,
                         ticks=False, domain=False, grid=False,
                         title="DOS of TiO\u2082 layers (states/eV)", titleFont=FONT,
                         titleFontSize=21, titleFontWeight="normal", titleColor="black",
                         titlePadding=8)
    else:
        xaxis = None
    X = alt.X("x:Q", scale=alt.Scale(domain=[-2.5, 47.5], nice=False, zero=False), axis=xaxis)
    Y = alt.Y("E:Q", scale=alt.Scale(domain=[-4, 4], nice=False, zero=False),
              axis=alt.Axis(values=Y_TICKS, labelExpr="'' + datum.value", labelFontSize=14,
                            labelFont=FONT, labelColor="black", labelPadding=4,
                            ticks=False, domain=False, grid=False, title=None))

    zero = alt.Chart(pd.DataFrame({"E": [0]})).mark_rule(
        color="black", strokeWidth=1, strokeDash=[1, 1]).encode(y=Y)
    seps = alt.Chart(pd.DataFrame({"x": separators})).mark_rule(
        color="black", strokeWidth=1).encode(x=X)
    ytk = pd.DataFrame([{"x": b, "E": e} for b in borders for e in Y_MINOR])
    yticks = alt.Chart(ytk).mark_rule(color="black", strokeWidth=1, x2Offset=3).encode(
        x=X, x2=alt.X2("x:Q"), y=Y)
    xtk_b = pd.DataFrame([{"x": c + t, "E": -4} for c in centers for t in MINOR_TICKS])
    xtk_t = pd.DataFrame([{"x": c + t, "E": 4} for c in centers for t in MINOR_TICKS])
    xticks_b = alt.Chart(xtk_b).mark_rule(color="black", strokeWidth=1, y2Offset=-3).encode(
        x=X, y=Y, y2=alt.Y2("E:Q"))
    xticks_t = alt.Chart(xtk_t).mark_rule(color="black", strokeWidth=1, y2Offset=3).encode(
        x=X, y=Y, y2=alt.Y2("E:Q"))

    def lines(spin, col):
        return alt.Chart(df[df.spin == spin]).mark_line(strokeWidth=1, color=col).encode(
            x=X, y=Y, detail="curve:N", order=alt.Order("idx:Q"))

    circ = pd.DataFrame({"x": [centers[k] for k in CIRCLE_PANELS], "E": circle_e})
    circles = alt.Chart(circ).mark_point(shape="circle", filled=False, color="#0000ff",
                                         size=85, strokeWidth=1.5, opacity=1).encode(x=X, y=Y)

    lab = one(t=letter).mark_text(
        align="left", baseline="middle", fontSize=16, font=FONT, color="black").encode(
        x=alt.value(2), y=alt.value(201), text="t:N")

    ttl = one(t=title).mark_text(
        align="left", baseline="alphabetic", fontSize=20.5, font=FONT, color="black").encode(
        x=alt.value(284), y=alt.value(-4), text="t:N")
    if arrow_left:
        shaft = (206, 276)
        head_x = 208.5
        path = "M -1 0 L 1 -0.62 L 1 0.62 Z"
    else:
        shaft = (202, 272)
        head_x = 269.5
        path = "M 1 0 L -1 -0.62 L -1 0.62 Z"
    arr = one().mark_rule(color="red", strokeWidth=3).encode(
        x=alt.value(shaft[0]), x2=alt.value(shaft[1]), y=alt.value(-11))
    head = one().mark_point(
        shape=path, filled=True, color="red", size=169, opacity=1, strokeWidth=0).encode(
        x=alt.value(head_x), y=alt.value(-11))

    yt1 = one(t="E-E").mark_text(
        align="left", baseline="alphabetic", angle=270, fontSize=21, font=FONT, color="black").encode(
        x=alt.value(-29), y=alt.value(163), text="t:N")
    yt2 = one(t="F").mark_text(
        align="left", baseline="alphabetic", angle=270, fontSize=13, font=FONT, color="black").encode(
        x=alt.value(-24), y=alt.value(128), text="t:N")
    yt3 = one(t="(eV)").mark_text(
        align="left", baseline="alphabetic", angle=270, fontSize=21, font=FONT, color="black").encode(
        x=alt.value(-29), y=alt.value(114), text="t:N")

    layers = [zero, seps, yticks, xticks_b, xticks_t,
              lines("Majority", "black"), lines("Minority", "red"),
              circles, lab, ttl, arr, head, yt1, yt2, yt3]

    if legend:
        layers.append(one().mark_rect(fill="white", stroke="black", strokeWidth=1).encode(
            x=alt.value(40), x2=alt.value(144), y=alt.value(128), y2=alt.value(168)))
        for i, (name, col) in enumerate(zip(LEGEND_LABELS, LEGEND_COLORS)):
            yy = 138.5 + 20 * i
            layers.append(one().mark_rule(color=col, strokeWidth=1.2).encode(
                x=alt.value(43), x2=alt.value(80), y=alt.value(yy)))
            layers.append(one(t=name).mark_text(
                align="left", baseline="middle", fontSize=16, font=FONT, color="black").encode(
                x=alt.value(86), y=alt.value(yy), text="t:N"))

    return alt.layer(*layers).properties(width=W, height=H)


top = make_panel(A_CURVES, A_CIRCLE_E, "a", "(a)", "Left polarization", True, True, False)
bottom = make_panel(B_CURVES, B_CIRCLE_E, "b", "(b)", "Right polarization", False, False, True)

chart = alt.vconcat(top, bottom, spacing=6,
                    padding={"top": 3, "left": 0, "right": 0, "bottom": 0}).configure_view(
    stroke="black", strokeWidth=1).configure(font=FONT)

chart.save("out.html", embed_options={"renderer": "svg", "actions": False})
